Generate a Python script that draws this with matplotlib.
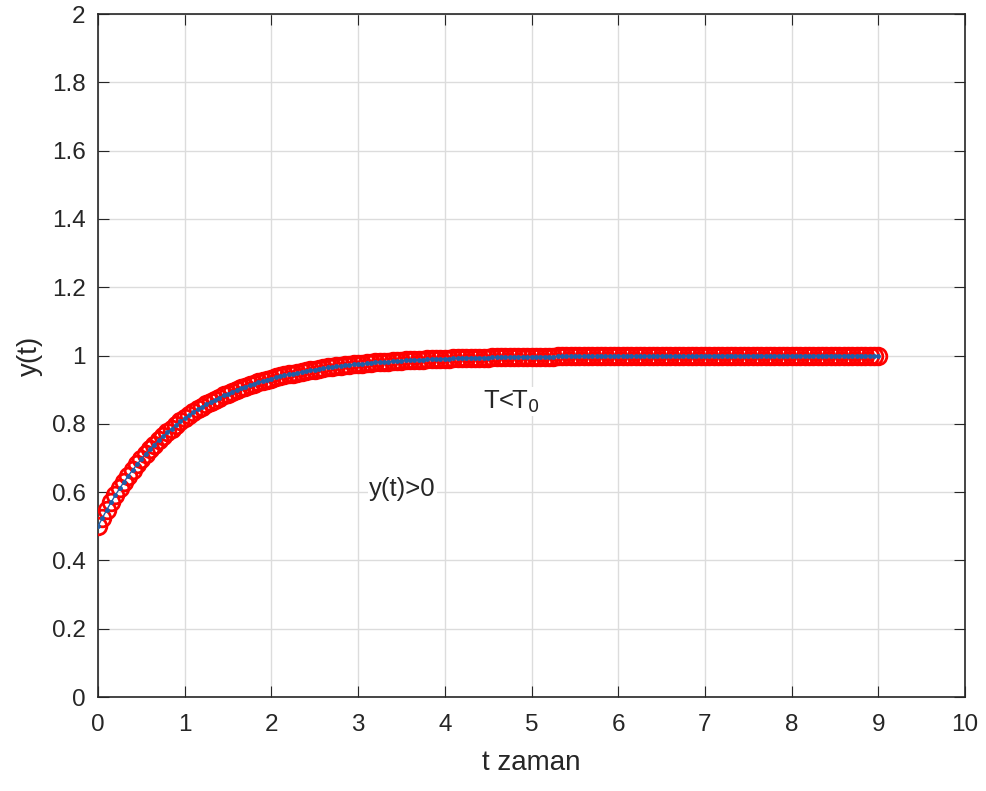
import numpy as np
import matplotlib.pyplot as plt

plt.rcParams['font.family'] = ['Liberation Sans', 'DejaVu Sans']

# sampled response y(t), step 0.05 s from t = 0 to 9
t_step = 0.05
y = [0.500, 0.524, 0.548, 0.570, 0.591, 0.611, 0.630, 0.648, 0.665, 0.681,
     0.697, 0.712, 0.726, 0.739, 0.752, 0.764, 0.775, 0.786, 0.797, 0.807,
     0.816, 0.825, 0.834, 0.842, 0.849, 0.857, 0.864, 0.870, 0.877, 0.883,
     0.888, 0.894, 0.899, 0.904, 0.909, 0.913, 0.917, 0.921, 0.925, 0.929,
     0.932, 0.936, 0.939, 0.942, 0.945, 0.947, 0.950, 0.952, 0.955, 0.957,
     0.959, 0.961, 0.963, 0.965, 0.966, 0.968, 0.970, 0.971, 0.972, 0.974,
     0.975, 0.976, 0.977, 0.979, 0.980, 0.981, 0.982, 0.982, 0.983, 0.984,
     0.985, 0.986, 0.986, 0.987, 0.988, 0.988, 0.989, 0.989, 0.990, 0.990,
     0.991, 0.991, 0.992, 0.992, 0.993, 0.993, 0.993, 0.994, 0.994, 0.994,
     0.994, 0.995, 0.995, 0.995, 0.995, 0.996, 0.996, 0.996, 0.996, 0.996,
     0.997, 0.997, 0.997, 0.997, 0.997, 0.997, 0.998, 0.998, 0.998, 0.998,
     0.998, 0.998, 0.998, 0.998, 0.998, 0.998, 0.998]
y = y + [0.999] * 22 + [1.000] * 42
y = np.array(y)
t = np.arange(len(y)) * t_step

xticks = np.arange(0, 11, 1)
yticks = np.arange(0, 2.01, 0.2)
ytick_labels = ['0', '0.2', '0.4', '0.6', '0.8', '1', '1.2', '1.4', '1.6', '1.8', '2']

fig = plt.figure(figsize=(9.86, 7.91), dpi=100)
ax = fig.add_axes([0.0994, 0.1188, 0.8793, 0.8635])

ax.plot(t, y, 'o', color='red', mfc='none', ms=12, mew=2.0, zorder=3)
ax.plot(t, y, '.-', color='#1f5fa8', ms=5, lw=1.0, zorder=4)

ax.set_xlim(0, 10)
ax.set_ylim(0, 2)
ax.set_xticks(xticks)
ax.set_yticks(yticks)
ax.set_yticklabels(ytick_labels)
ax.tick_params(direction='in', top=True, right=True, labelsize=17.5,
               colors='#262626', length=8, pad=9)
ax.tick_params(axis='x', pad=12)
ax.grid(True, color='#dcdcdc', lw=1.0)
ax.set_axisbelow(True)
for s in ax.spines.values():
    s.set_color('#262626')
    s.set_linewidth(1.2)

ax.set_xlabel('t zaman', fontsize=20, color='#262626', labelpad=10)
ax.set_ylabel('y(t)', fontsize=20, color='#262626', labelpad=6)

ax.text(4.44, 0.846, 'T<T$_0$', fontsize=18.5, color='#262626', zorder=5,
        va='baseline', bbox=dict(facecolor='white', edgecolor='none', pad=1))
ax.text(3.13, 0.59, 'y(t)>0', fontsize=18.5, color='#262626', zorder=5,
        va='baseline', bbox=dict(facecolor='white', edgecolor='none', pad=1))

fig.savefig('out.png', dpi=100)
